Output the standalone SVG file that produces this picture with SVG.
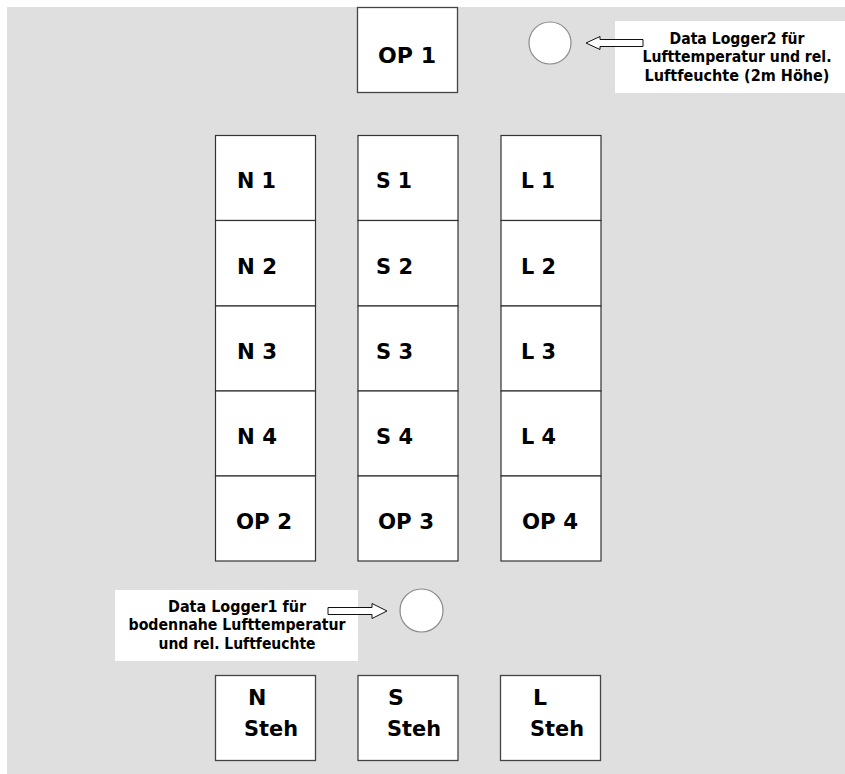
<svg xmlns="http://www.w3.org/2000/svg" width="845" height="774" viewBox="0 0 845 774">
<style>
.bg{fill:#dfdfdf}
.box{fill:#fff;stroke:#444;stroke-width:1.3}
.cell{fill:#fff;stroke:#333;stroke-width:1.2}
.circ{fill:#fff;stroke:#8c8c8c;stroke-width:1.2}
.note{fill:#fff}
.arr{fill:#fff;stroke:#111;stroke-width:1}
.lbl{font-family:"DejaVu Sans",Verdana,sans-serif;font-weight:bold;font-size:22px;fill:#000}
.txt{font-family:"DejaVu Sans",Verdana,sans-serif;font-weight:bold;font-size:16px;fill:#000;text-anchor:middle}
</style>
<rect class="bg" x="7" y="7" width="838" height="767"/>
<g id="op1"><rect class="box" x="357.5" y="7.5" width="100" height="85"/><text class="lbl" x="378" y="63" textLength="58" lengthAdjust="spacingAndGlyphs">OP 1</text></g>
<g id="logger2"><circle class="circ" cx="550" cy="43" r="21"/></g>
<g id="note2"><rect class="note" x="615" y="21" width="230" height="72"/>
<g transform="translate(737,0) scale(0.85,1)">
<text class="txt" x="0" y="44" textLength="158.8" lengthAdjust="spacingAndGlyphs">Data Logger2 für</text>
<text class="txt" x="0" y="62.5" textLength="222.4" lengthAdjust="spacingAndGlyphs">Lufttemperatur und rel.</text>
<text class="txt" x="0" y="81" textLength="217.6" lengthAdjust="spacingAndGlyphs">Luftfeuchte (2m Höhe)</text>
</g></g>
<g id="n1"><rect class="cell" x="215.5" y="135.5" width="100" height="85"/><text class="lbl" x="237" y="188" textLength="39" lengthAdjust="spacingAndGlyphs">N 1</text></g>
<g id="n2"><rect class="cell" x="215.5" y="220.5" width="100" height="85.5"/><text class="lbl" x="237" y="274" textLength="40" lengthAdjust="spacingAndGlyphs">N 2</text></g>
<g id="n3"><rect class="cell" x="215.5" y="306" width="100" height="85"/><text class="lbl" x="237" y="358.5" textLength="40" lengthAdjust="spacingAndGlyphs">N 3</text></g>
<g id="n4"><rect class="cell" x="215.5" y="391" width="100" height="85"/><text class="lbl" x="237" y="443.5" textLength="40" lengthAdjust="spacingAndGlyphs">N 4</text></g>
<g id="op2"><rect class="cell" x="215.5" y="476" width="100" height="85"/><text class="lbl" x="236" y="528.5" textLength="56" lengthAdjust="spacingAndGlyphs">OP 2</text></g>
<g id="s1"><rect class="cell" x="358" y="135.5" width="100" height="85"/><text class="lbl" x="376" y="188" textLength="36" lengthAdjust="spacingAndGlyphs">S 1</text></g>
<g id="s2"><rect class="cell" x="358" y="220.5" width="100" height="85.5"/><text class="lbl" x="376" y="274" textLength="37" lengthAdjust="spacingAndGlyphs">S 2</text></g>
<g id="s3"><rect class="cell" x="358" y="306" width="100" height="85"/><text class="lbl" x="376" y="358.5" textLength="37" lengthAdjust="spacingAndGlyphs">S 3</text></g>
<g id="s4"><rect class="cell" x="358" y="391" width="100" height="85"/><text class="lbl" x="376" y="443.5" textLength="37" lengthAdjust="spacingAndGlyphs">S 4</text></g>
<g id="op3"><rect class="cell" x="358" y="476" width="100" height="85"/><text class="lbl" x="378" y="528.5" textLength="56" lengthAdjust="spacingAndGlyphs">OP 3</text></g>
<g id="l1"><rect class="cell" x="501" y="135.5" width="100" height="85"/><text class="lbl" x="521" y="188" textLength="34" lengthAdjust="spacingAndGlyphs">L 1</text></g>
<g id="l2"><rect class="cell" x="501" y="220.5" width="100" height="85.5"/><text class="lbl" x="521" y="274" textLength="35" lengthAdjust="spacingAndGlyphs">L 2</text></g>
<g id="l3"><rect class="cell" x="501" y="306" width="100" height="85"/><text class="lbl" x="521" y="358.5" textLength="35" lengthAdjust="spacingAndGlyphs">L 3</text></g>
<g id="l4"><rect class="cell" x="501" y="391" width="100" height="85"/><text class="lbl" x="521" y="443.5" textLength="35" lengthAdjust="spacingAndGlyphs">L 4</text></g>
<g id="op4"><rect class="cell" x="501" y="476" width="100" height="85"/><text class="lbl" x="522" y="528.5" textLength="56" lengthAdjust="spacingAndGlyphs">OP 4</text></g>
<g id="note1"><rect class="note" x="115" y="590" width="243" height="71"/>
<g transform="translate(237,0) scale(0.85,1)">
<text class="txt" x="0" y="612" textLength="162.4" lengthAdjust="spacingAndGlyphs">Data Logger1 für</text>
<text class="txt" x="0" y="630.5" textLength="255.3" lengthAdjust="spacingAndGlyphs">bodennahe Lufttemperatur</text>
<text class="txt" x="0" y="649" textLength="184.7" lengthAdjust="spacingAndGlyphs">und rel. Luftfeuchte</text>
</g></g>
<g id="logger1"><circle class="circ" cx="421.5" cy="610.5" r="21.5"/></g>
<g id="nsteh"><rect class="box" x="215.5" y="675.5" width="100" height="85"/><text class="lbl" x="248" y="705">N</text><text class="lbl" x="244" y="736" textLength="54" lengthAdjust="spacingAndGlyphs">Steh</text></g>
<g id="ssteh"><rect class="box" x="358" y="675.5" width="100" height="85"/><text class="lbl" x="388" y="705">S</text><text class="lbl" x="387" y="736" textLength="54" lengthAdjust="spacingAndGlyphs">Steh</text></g>
<g id="lsteh"><rect class="box" x="500.5" y="675.5" width="100" height="85"/><text class="lbl" x="533" y="705">L</text><text class="lbl" x="530" y="736" textLength="54" lengthAdjust="spacingAndGlyphs">Steh</text></g>
<g id="connectors">
<polygon class="arr" points="586,43 600,36.5 600,39.5 643,39.5 643,46.5 600,46.5 600,49.5"/>
<polygon class="arr" points="328,607.5 372,607.5 372,603.5 387,611 372,618.5 372,614.5 328,614.5"/>
</g>
</svg>
